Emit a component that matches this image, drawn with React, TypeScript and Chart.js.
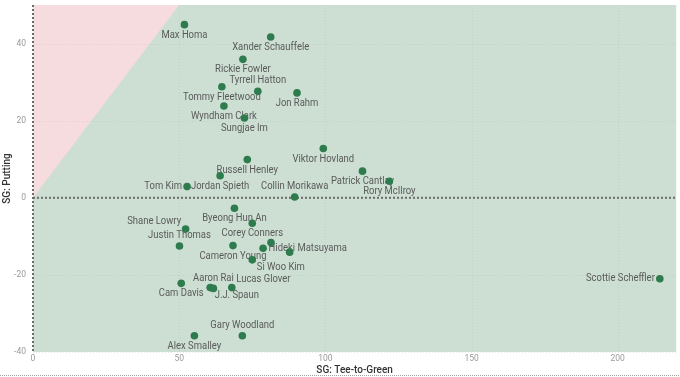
import React, { useEffect, useRef } from "react";
import { Chart, registerables } from "chart.js";

Chart.register(...registerables);

// ---- data ----
const players = [
  "Max Homa", "Xander Schauffele", "Rickie Fowler", "Tyrrell Hatton", "Tommy Fleetwood",
  "Jon Rahm", "Wyndham Clark", "Sungjae Im", "Viktor Hovland", "Russell Henley",
  "Jordan Spieth", "Tom Kim", "Collin Morikawa", "Patrick Cantlay", "Rory McIlroy",
  "Byeong Hun An", "Corey Conners", "Shane Lowry", "Justin Thomas", "Cameron Young",
  "", "Hideki Matsuyama", "", "Si Woo Kim", "Cam Davis",
  "J.J. Spaun", "Aaron Rai", "Lucas Glover", "Alex Smalley", "Gary Woodland",
  "Scottie Scheffler",
];
const teeToGreen = [
  51.8, 81.3, 71.8, 76.9, 64.6,
  90.3, 65.3, 72.3, 99.3, 73.3,
  64.0, 52.7, 89.5, 112.7, 121.9,
  68.9, 75.0, 52.2, 50.1, 68.4,
  81.4, 78.7, 87.8, 75.0, 50.7,
  60.6, 61.7, 68.0, 55.2, 71.6,
  214.4,
];
const putting = [
  44.9, 41.7, 35.9, 27.6, 28.8,
  27.2, 23.8, 20.7, 12.8, 9.9,
  5.7, 2.9, 0.2, 6.9, 4.3,
  -2.7, -6.6, -8.1, -12.5, -12.4,
  -11.6, -13.1, -14.1, -16.1, -22.2,
  -23.3, -23.5, -23.3, -35.8, -35.8,
  -21.0,
];
// label placement relative to the point: b below, a above, l left, r right, al above-left, ar above-right, br below-right, n none
const labelPlacement = [
  "b", "b", "b", "a", "b",
  "b", "b", "b", "b", "b",
  "b", "l", "a", "b", "b",
  "b", "b", "al", "a", "b",
  "n", "r", "n", "br", "b",
  "br", "a", "ar", "b", "a",
  "l",
];
const xTickValues = [0, 50, 100, 150, 200];
const yTickValues = [-40, -20, 0, 20, 40];
const xRange = [0, 220];
const yRange = [-40, 50];
const xTitle = "SG: Tee-to-Green";
const yTitle = "SG: Putting";

const FONT = "Roboto, 'DejaVu Sans', sans-serif";
const GREEN_BG = "#cddfd3";
const PINK_BG = "#f6dbdf";
const DOT = "#2e7b4d";
const LABEL = "#5a5a5a";
const LABEL_SCALE_X = 0.9;

const bgPlugin = {
  id: "bgPlugin",
  beforeDraw(chart: any) {
    const { ctx, chartArea, scales } = chart;
    const xs = scales.x, ys = scales.y;
    ctx.save();
    ctx.fillStyle = GREEN_BG;
    ctx.fillRect(chartArea.left, chartArea.top, chartArea.right - chartArea.left, chartArea.bottom - chartArea.top);
    // pink region where putting > tee-to-green (above y = x, x >= 0, y >= 0)
    const top = yRange[1];
    ctx.fillStyle = PINK_BG;
    ctx.beginPath();
    ctx.moveTo(xs.getPixelForValue(0), ys.getPixelForValue(0));
    ctx.lineTo(xs.getPixelForValue(0), ys.getPixelForValue(top));
    ctx.lineTo(xs.getPixelForValue(top), ys.getPixelForValue(top));
    ctx.closePath();
    ctx.fill();
    // faint grid
    ctx.strokeStyle = "rgba(150,170,158,0.25)";
    ctx.lineWidth = 1;
    ctx.setLineDash([1, 2]);
    yTickValues.forEach((v) => {
      if (v === 0) return;
      const y = Math.round(ys.getPixelForValue(v)) + 0.5;
      ctx.beginPath();
      ctx.moveTo(chartArea.left, y);
      ctx.lineTo(chartArea.right, y);
      ctx.stroke();
    });
    xTickValues.forEach((v) => {
      if (v === 0) return;
      const x = Math.round(xs.getPixelForValue(v)) + 0.5;
      ctx.beginPath();
      ctx.moveTo(x, chartArea.top);
      ctx.lineTo(x, chartArea.bottom);
      ctx.stroke();
    });
    // bottom frame dotted line
    ctx.strokeStyle = "#a0a0a0";
    ctx.setLineDash([1, 1]);
    ctx.beginPath();
    ctx.moveTo(0, chart.height - 1.5);
    ctx.lineTo(chart.width, chart.height - 1.5);
    ctx.stroke();
    ctx.restore();
  },
  beforeDatasetsDraw(chart: any) {
    const { ctx, chartArea, scales } = chart;
    const xs = scales.x, ys = scales.y;
    ctx.save();
    // zero lines
    ctx.strokeStyle = "#6a6a6a";
    ctx.lineWidth = 2;
    ctx.setLineDash([2, 2]);
    const y0 = ys.getPixelForValue(0);
    ctx.beginPath();
    ctx.moveTo(chartArea.left, y0);
    ctx.lineTo(chartArea.right, y0);
    ctx.stroke();
    const x0 = xs.getPixelForValue(0);
    ctx.beginPath();
    ctx.moveTo(x0, chartArea.top);
    ctx.lineTo(x0, chartArea.bottom);
    ctx.stroke();
    ctx.setLineDash([]);
    // labels (drawn under the dots)
    const meta = chart.getDatasetMeta(0);
    ctx.font = `10.5px ${FONT}`;
    ctx.fillStyle = LABEL;
    meta.data.forEach((el: any, i: number) => {
      const name = players[i];
      const p = labelPlacement[i];
      if (!name || p === "n") return;
      let x = el.x, y = el.y;
      let align: CanvasTextAlign = "center";
      if (p === "b") { y += 10.5; }
      else if (p === "a") { y -= 10.5; }
      else if (p === "l") { x -= 5; align = "right"; }
      else if (p === "r") { x += 5.5; align = "left"; }
      else if (p === "al") { x -= 4.5; y -= 8; align = "right"; }
      else if (p === "ar") { x += 4.5; y -= 8; align = "left"; }
      else if (p === "br") { x += 4.5; y += 8; align = "left"; }
      ctx.save();
      ctx.translate(x, y);
      ctx.scale(LABEL_SCALE_X, 1);
      ctx.textAlign = align;
      ctx.textBaseline = "middle";
      ctx.fillText(name, 0, 0);
      ctx.restore();
    });
    ctx.restore();
  },
};

export default function App() {
  const ref = useRef<HTMLCanvasElement | null>(null);
  useEffect(() => {
    if (!ref.current) return;
    const chart = new Chart(ref.current, {
      type: "scatter",
      data: {
        datasets: [
          {
            label: "Players",
            data: teeToGreen.map((x, i) => ({ x, y: putting[i] })),
            backgroundColor: DOT,
            borderColor: DOT,
            borderWidth: 0,
            pointRadius: 3.8,
            pointHoverRadius: 3.8,
          },
        ],
      },
      options: {
        responsive: false,
        animation: false,
        events: [],
        layout: { padding: { top: 5, right: 3, left: 0, bottom: 0 } },
        plugins: { legend: { display: false }, tooltip: { enabled: false } },
        scales: {
          x: {
            type: "linear",
            min: xRange[0],
            max: xRange[1],
            afterBuildTicks: (s: any) => { s.ticks = xTickValues.map((v) => ({ value: v })); },
            afterFit: (s: any) => { s.height = 25; s.paddingLeft = 0; s.paddingRight = 0; },
            grid: { display: false, drawTicks: false },
            border: { display: false },
            ticks: { color: "#9a9a9a", font: { size: 8.5, family: FONT }, padding: 2, maxRotation: 0 },
            title: { display: true, text: xTitle, color: "#333333", font: { size: 10, family: FONT, weight: "500" }, padding: { top: 0, bottom: 1 } },
          },
          y: {
            type: "linear",
            min: yRange[0],
            max: yRange[1],
            afterBuildTicks: (s: any) => { s.ticks = yTickValues.map((v) => ({ value: v })); },
            afterFit: (s: any) => { s.width = 33; s.paddingTop = 0; s.paddingBottom = 0; },
            grid: { display: false, drawTicks: false },
            border: { display: false },
            ticks: { color: "#9a9a9a", font: { size: 8.5, family: FONT }, padding: 7 },
            title: { display: true, text: yTitle, color: "#333333", font: { size: 10, family: FONT, weight: "500" }, padding: { top: 1, bottom: 0 } },
          },
        },
      },
      plugins: [bgPlugin],
    });
    return () => chart.destroy();
  }, []);
  return (
    <div style={{ position: "absolute", left: 0, top: 0, width: 680, height: 377, background: "#fff" }}>
      <canvas ref={ref} width={680} height={377} style={{ display: "block" }} />
    </div>
  );
}
